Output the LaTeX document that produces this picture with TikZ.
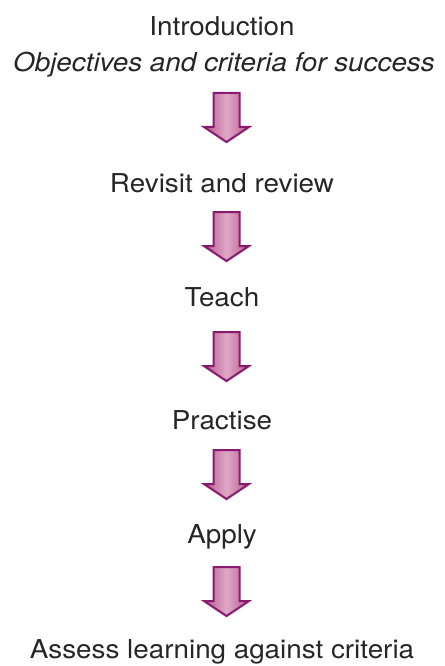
\documentclass[tikz,border=0pt]{standalone}
\usepackage{fontspec}
\setmainfont{TeX Gyre Heros}[FakeStretch=1.07]
\usetikzlibrary{shadows}
\definecolor{txt}{HTML}{262626}
\definecolor{arrowedge}{HTML}{8A1A70}
\definecolor{arrowside}{HTML}{B65A8E}
\definecolor{arrowmid}{HTML}{DFA8C6}
\begin{document}
\begin{tikzpicture}[x=1pt,y=1pt,
  label/.style={anchor=base,inner sep=0pt,text=txt,font=\fontsize{26}{31}\selectfont},
  blockarrow/.style={draw=arrowedge,line width=2pt,line join=miter,
    left color=arrowside,right color=arrowside,middle color=arrowmid,
    drop shadow={opacity=0.15,shadow xshift=0pt,shadow yshift=-2pt}},
  downarrow/.pic={\path[blockarrow] (-13,0) -- (13,0) -- (13,-34) -- (22.5,-34) -- (0,-49) -- (-22.5,-34) -- (-13,-34) -- cycle;}]
\useasboundingbox (0,0) rectangle (444,-666);
\node[label] (intro) at (222,-36) {Introduction};
\node[label] (obj) at (224,-72) {\itshape Objectives and criteria for success};
\node[label] (rev) at (222,-192) {Revisit and review};
\node[label] (teach) at (222,-306) {Teach};
\node[label] (prac) at (222,-429) {Practise};
\node[label] (apply) at (222,-543) {Apply};
\node[label] (assess) at (222,-658) {Assess learning against criteria};
\pic at (226.5,-93) {downarrow};
\pic at (226.5,-212) {downarrow};
\pic at (226.5,-332) {downarrow};
\pic at (226.5,-450) {downarrow};
\pic at (226.5,-567) {downarrow};
\end{tikzpicture}
\end{document}
